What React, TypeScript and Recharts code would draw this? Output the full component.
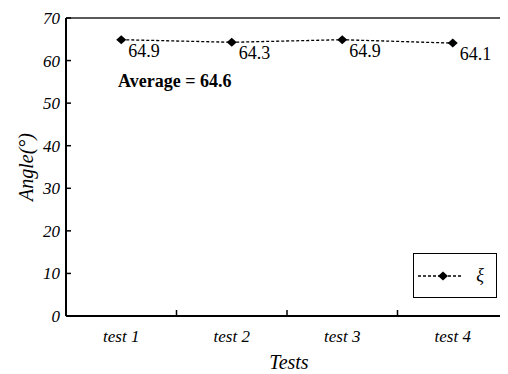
import React from "react";
import {
  LineChart,
  Line,
  XAxis,
  YAxis,
  ReferenceLine,
  LabelList,
} from "recharts";

const tests = ["test 1", "test 2", "test 3", "test 4"];
const angles = [64.9, 64.3, 64.9, 64.1];
const yTicks = [0, 10, 20, 30, 40, 50, 60, 70];

// each test sits in the middle of its own unit band, ticks mark the band edges
const data = tests.map((name, i) => ({ pos: i + 0.5, name, angle: angles[i] }));
const xTicks = [0.5, 1, 1.5, 2, 2.5, 3, 3.5];
const average = angles.reduce((s, v) => s + v, 0) / angles.length;
const averageText = (Math.round(average * 10 + 1e-6) / 10).toFixed(1);

const serif = "'Times New Roman', Times, Tinos, 'Nimbus Roman', 'Noto Serif', FreeSerif, 'Liberation Serif', serif";

const XTick = (props: any) => {
  const { x, y, payload } = props;
  const v = payload.value;
  if (Number.isInteger(v)) {
    return <line x1={x} x2={x} y1={y} y2={y - 6} stroke="#000" strokeWidth={1.5} />;
  }
  return (
    <text x={x} y={y + 26} textAnchor="middle" style={{ fontFamily: serif, fontStyle: "italic", fontSize: 17 }} fill="#000">
      {tests[Math.floor(v)]}
    </text>
  );
};

const YTick = (props: any) => {
  const { x, y, payload } = props;
  return (
    <g>
      <line x1={x} x2={x + 5} y1={y} y2={y} stroke="#000" strokeWidth={1.5} />
      <text x={x - 6} y={y + 6} textAnchor="end" style={{ fontFamily: serif, fontStyle: "italic", fontSize: 17 }} fill="#000">
        {payload.value}
      </text>
    </g>
  );
};

const Diamond = (props: any) => {
  const { cx, cy } = props;
  if (cx == null || cy == null) return null;
  return <path d={`M${cx - 5},${cy} L${cx},${cy - 4.5} L${cx + 5},${cy} L${cx},${cy + 4.5} Z`} fill="#000" />;
};

const ValueLabel = (props: any) => {
  const { x, y, value } = props;
  return (
    <text x={x + 7} y={y + 17} style={{ fontFamily: serif, fontSize: 18 }} fill="#000">
      {value.toFixed(1)}
    </text>
  );
};

export default function App() {
  return (
    <div style={{ position: "relative", width: 500, height: 366 }}>
      <LineChart width={500} height={366} data={data} margin={{ top: 10, right: 0, left: 0, bottom: 0 }}>
        <XAxis
          dataKey="pos"
          type="number"
          domain={[0, 4]}
          ticks={xTicks}
          interval={0}
          height={58}
          tickLine={false}
          tickSize={0}
          tickMargin={0}
          tick={<XTick />}
          axisLine={{ stroke: "#000", strokeWidth: 2 }}
          label={(p: any) => {
            const vb = p.viewBox;
            return (
              <text x={vb.x + vb.width / 2 + 2} y={vb.y + 53} textAnchor="middle" style={{ fontFamily: serif, fontStyle: "italic", fontSize: 20 }} fill="#000">
                Tests
              </text>
            );
          }}
        />
        <YAxis
          type="number"
          domain={[0, 70]}
          ticks={yTicks}
          interval={0}
          width={58}
          tickLine={false}
          tickSize={0}
          tickMargin={0}
          tick={<YTick />}
          axisLine={{ stroke: "#000", strokeWidth: 2 }}
          label={(p: any) => {
            const vb = p.viewBox;
            const cx = 25;
            const cy = vb.y + vb.height / 2;
            return (
              <text x={cx} y={cy} transform={`rotate(-90 ${cx} ${cy})`} textAnchor="middle" style={{ fontFamily: serif, fontStyle: "italic", fontSize: 20 }} fill="#000">
                Angle(°)
              </text>
            );
          }}
        />
        <ReferenceLine y={70} stroke="#222" strokeWidth={1.5} />
        <Line
          dataKey="angle"
          stroke="#000"
          strokeWidth={1.3}
          strokeDasharray="3 2"
          dot={<Diamond />}
          activeDot={false}
          isAnimationActive={false}
        >
          <LabelList dataKey="angle" content={<ValueLabel />} />
        </Line>
      </LineChart>
      <div
        style={{
          position: "absolute",
          left: 110,
          top: 64,
          fontFamily: serif,
          fontWeight: "bold",
          fontSize: 18,
          lineHeight: "18px",
          whiteSpace: "nowrap",
        }}
      >
        Average = {averageText}
      </div>
      {/* legend box */}
      <div
        style={{
          position: "absolute",
          left: 405,
          top: 245,
          width: 84,
          height: 45,
          border: "1.5px solid #000",
          boxSizing: "border-box",
          background: "#fff",
        }}
      >
        <svg width={81} height={42} style={{ display: "block" }}>
          <line x1={4} x2={48} y1={22} y2={22} stroke="#000" strokeWidth={1.3} strokeDasharray="3 2" />
          <path d="M24,22 L29,17.5 L34,22 L29,26.5 Z" fill="#000" />
          <text x={66} y={27} textAnchor="middle" style={{ fontFamily: serif, fontStyle: "italic", fontSize: 18 }} fill="#000">
            ξ
          </text>
        </svg>
      </div>
    </div>
  );
}
